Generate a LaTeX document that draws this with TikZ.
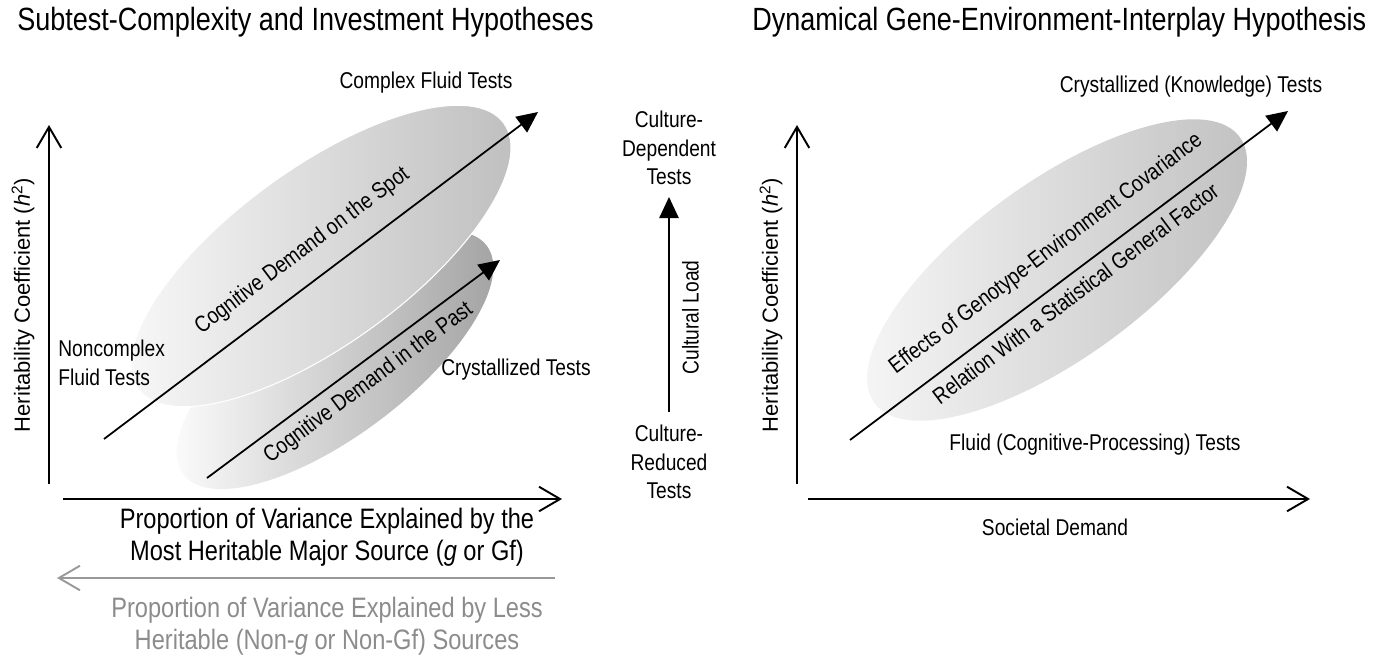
\documentclass[tikz,border=0pt]{standalone}
\usepackage{fontspec}
\setmainfont{Liberation Sans}
\newfontfamily\cnd[FakeStretch=0.84]{Liberation Sans}
\usetikzlibrary{arrows.meta}
\definecolor{lgray}{HTML}{999999}
\definecolor{tgray}{HTML}{8C8C8C}

\begin{document}
\begin{tikzpicture}[x=0.02cm, y=-0.02cm]
	\tikzstyle{axisline} = [draw=black, line width=1.1pt, -{Straight Barb[length=12pt,width=14pt]}]
	\tikzstyle{trend} = [draw=black, line width=1pt, -{Triangle[length=12pt,width=11pt]}]
	\tikzstyle{lbl} = [font=\cnd\fontsize{13}{16.4}\selectfont, align=center, inner sep=0pt]
	\tikzstyle{xlbl} = [font=\cnd\fontsize{16}{18}\selectfont, align=center, inner sep=0pt]
	\tikzstyle{ttl} = [font=\cnd\fontsize{18.3}{22}\selectfont, inner sep=0pt]
	\tikzstyle{hlbl} = [font=\fontsize{12.5}{15}\selectfont, rotate=90, inner sep=0pt]
	\useasboundingbox (0,0) rectangle (1382,656);

	% left panel
	\node[ttl, anchor=west] (t1) at (17,22) {Subtest-Complexity and Investment Hypotheses};
	\coordinate (c2) at (335,360);
	\coordinate (c1) at (321,256);
	\shade[left color=white, right color=gray!75] (c2) circle[x radius=3.8cm, y radius=1.5cm, rotate=37];
	\shadedraw[left color=gray!4, right color=gray!52, draw=white, line width=0.6pt] (c1) circle[x radius=4.52cm, y radius=1.76cm, rotate=36];

	\coordinate (a1) at (104,439);
	\coordinate (b1) at (538,112);
	\draw[trend] (a1) -- node[lbl, sloped, above=11pt, pos=0.5] {Cognitive Demand on the Spot} (b1);
	\coordinate (a2) at (207,478);
	\coordinate (b2) at (500,260);
	\draw[trend] (a2) -- node[lbl, sloped, below=5pt, pos=0.51] {Cognitive Demand in the Past} (b2);

	\node[lbl] (cft) at (426,83) {Complex Fluid Tests};
	\node[lbl, anchor=west, align=left] (nft) at (58,363) {Noncomplex\\Fluid Tests};
	\node[lbl] (ct) at (516,370) {Crystallized Tests};

	\coordinate (y0) at (49,484);
	\coordinate (y1) at (49,125);
	\coordinate (x0) at (63,499);
	\coordinate (x1) at (562,499);
	\draw[axisline] (y0) -- (y1);
	\draw[axisline] (x0) -- (x1);
	\node[hlbl] (hl1) at (23,305) {Heritability Coefficient (\textit{h}\textsuperscript{2})};
	\node[xlbl] (pv) at (327,537) {Proportion of Variance Explained by the\\Most Heritable Major Source (\textit{g} or Gf)};

	\coordinate (g0) at (555,578);
	\coordinate (g1) at (57,578);
	\draw[axisline, draw=lgray] (g0) -- (g1);
	\node[xlbl, text=tgray] (pl) at (327,626) {Proportion of Variance Explained by Less\\Heritable (Non-\textit{g} or Non-Gf) Sources};

	% cultural load
	\node[lbl] (cd) at (669,148) {Culture-\\Dependent\\Tests};
	\node[lbl] (cr) at (669,462) {Culture-\\Reduced\\Tests};
	\coordinate (m0) at (669,412);
	\coordinate (m1) at (669,197);
	\draw[trend] (m0) -- node[lbl, sloped, below=7pt, pos=0.44] {Cultural Load} (m1);

	% right panel
	\node[ttl, anchor=west] (t2) at (752,22) {Dynamical Gene-Environment-Interplay Hypothesis};
	\coordinate (c3) at (1057,270);
	\shade[left color=gray!6, right color=gray!50] (c3) circle[x radius=4.52cm, y radius=1.76cm, rotate=36];

	\coordinate (a3) at (850,440);
	\coordinate (b3) at (1288,111);
	\draw[trend] (a3) -- node[lbl, sloped, above=11pt, pos=0.49] {Effects of Genotype-Environment Covariance}
		node[lbl, sloped, below=5pt, pos=0.49] {Relation With a Statistical General Factor} (b3);

	\node[lbl] (ckt) at (1191,87) {Crystallized (Knowledge) Tests};
	\node[lbl] (fct) at (1095,445) {Fluid (Cognitive-Processing) Tests};

	\coordinate (y2) at (797,484);
	\coordinate (y3) at (797,125);
	\coordinate (x2) at (808,499);
	\coordinate (x3) at (1310,499);
	\draw[axisline] (y2) -- (y3);
	\draw[axisline] (x2) -- (x3);
	\node[hlbl] (hl2) at (771,305) {Heritability Coefficient (\textit{h}\textsuperscript{2})};
	\node[lbl] (sd) at (1055,527) {Societal Demand};
\end{tikzpicture}
\end{document}
